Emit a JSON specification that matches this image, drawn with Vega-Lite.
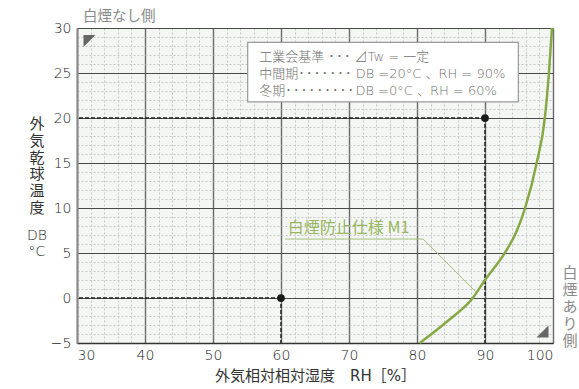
{
  "$schema": "https://vega.github.io/schema/vega-lite/v6.json",
  "width": 476,
  "height": 315,
  "autosize": {"type": "none"},
  "padding": {"left": 77, "top": 28, "right": 26, "bottom": 46},
  "background": "white",
  "config": {
    "view": {"fill": "#f4f6f4", "stroke": null},
    "font": "Noto Sans CJK JP",
    "axis": {"labelFont": "DejaVu Sans, Noto Sans CJK JP", "titleFont": "DejaVu Sans, Noto Sans CJK JP"}
  },
  "datasets": {
    "curve": [
      {"RH": 80.4, "DB": -5},
      {"RH": 84.6, "DB": -2.5},
      {"RH": 88.2, "DB": 0},
      {"RH": 90.0, "DB": 2},
      {"RH": 92.9, "DB": 5},
      {"RH": 94.7, "DB": 7.5},
      {"RH": 95.9, "DB": 10},
      {"RH": 97.6, "DB": 15},
      {"RH": 98.8, "DB": 20},
      {"RH": 99.4, "DB": 25},
      {"RH": 99.85, "DB": 30}
    ],
    "points": [
      {"season": "中間期", "RH": 90, "DB": 20},
      {"season": "冬期", "RH": 60, "DB": 0}
    ],
    "one": [{}]
  },
  "resolve": {"axis": {"x": "independent", "y": "independent"}},
  "layer": [
    {
      "data": {"name": "points"},
      "mark": {"type": "rule", "color": "#222222", "strokeWidth": 1.5, "strokeDash": [4, 2]},
      "encoding": {
        "x": {"field": "RH", "type": "quantitative", "scale": {"domain": [30, 100], "nice": false, "zero": false},
          "axis": {"orient": "bottom", "values": [32,34,36,38,42,44,46,48,52,54,56,58,62,64,66,68,72,74,76,78,82,84,86,88,92,94,96,98],
            "grid": true, "gridColor": "#c6c6c6", "gridDash": [2, 2], "gridWidth": 1, "labels": false, "ticks": false, "domain": false, "title": null}},
        "x2": {"datum": 30},
        "y": {"field": "DB", "type": "quantitative", "scale": {"domain": [-5, 30], "nice": false, "zero": false},
          "axis": {"orient": "left", "values": [-4,-3,-2,-1,1,2,3,4,6,7,8,9,11,12,13,14,16,17,18,19,21,22,23,24,26,27,28,29],
            "grid": true, "gridColor": "#c6c6c6", "gridDash": [2, 2], "gridWidth": 1, "labels": false, "ticks": false, "domain": false, "title": null}}
      }
    },
    {
      "data": {"name": "points"},
      "mark": {"type": "rule", "color": "#222222", "strokeWidth": 1.5, "strokeDash": [4, 2]},
      "encoding": {
        "x": {"field": "RH", "type": "quantitative", "scale": {"domain": [30, 100], "nice": false, "zero": false},
          "axis": {"orient": "bottom", "values": [30,40,50,60,70,80,90,100], "grid": true, "gridColor": "#6a6a6a", "gridWidth": 1.4,
            "ticks": false, "domain": true, "domainColor": "#333333", "domainWidth": 1.5,
            "labelPadding": 5, "labelFontSize": 14, "labelColor": "#222222", "labelFontWeight": 200,
            "title": "外気相対相対湿度　RH［%］", "titleFontSize": 15, "titleFontWeight": "normal", "titleColor": "#333333", "titlePadding": 6}},
        "y": {"field": "DB", "type": "quantitative", "scale": {"domain": [-5, 30], "nice": false, "zero": false},
          "axis": {"orient": "left", "values": [-5,0,5,10,15,20,25,30], "grid": true, "gridColor": "#4a4a4a", "gridWidth": 1.1,
            "ticks": false, "domain": true, "domainColor": "#8a8a8a", "domainWidth": 2,
            "labelPadding": 6, "labelFontSize": 14, "labelColor": "#222222", "labelFontWeight": 200, "title": null}},
        "y2": {"datum": -5}
      }
    },
    {
      "data": {"name": "curve"},
      "mark": {"type": "line", "color": "#86a845", "strokeWidth": 2.5, "interpolate": "monotone"},
      "encoding": {
        "x": {"field": "RH", "type": "quantitative", "scale": {"domain": [30, 100], "nice": false, "zero": false}, "axis": null},
        "y": {"field": "DB", "type": "quantitative", "scale": {"domain": [-5, 30], "nice": false, "zero": false}, "axis": null},
        "order": {"field": "DB", "type": "quantitative"}
      }
    },
    {
      "data": {"name": "points"},
      "mark": {"type": "circle", "color": "#1a1a1a", "size": 60, "opacity": 1},
      "encoding": {
        "x": {"field": "RH", "type": "quantitative", "scale": {"domain": [30, 100], "nice": false, "zero": false}, "axis": null},
        "y": {"field": "DB", "type": "quantitative", "scale": {"domain": [-5, 30], "nice": false, "zero": false}, "axis": null}
      }
    },
    {
      "data": {"name": "one"},
      "mark": {"type": "rect", "fill": "white", "stroke": "#9a9a9a", "strokeWidth": 1.2},
      "encoding": {
        "x": {"datum": 55.1, "type": "quantitative", "scale": {"domain": [30, 100], "nice": false, "zero": false}, "axis": null},
        "x2": {"datum": 94.9},
        "y": {"datum": 28.4, "type": "quantitative", "scale": {"domain": [-5, 30], "nice": false, "zero": false}, "axis": null},
        "y2": {"datum": 21.8}
      }
    },
    {
      "data": {"name": "one"},
      "mark": {"type": "text", "align": "left", "baseline": "top", "fontSize": 13, "fontWeight": 200, "font": "DejaVu Sans, Noto Sans CJK JP", "color": "#6f6f6f", "lineBreak": "\n", "lineHeight": 17},
      "encoding": {
        "x": {"datum": 56.8, "type": "quantitative", "scale": {"domain": [30, 100], "nice": false, "zero": false}, "axis": null},
        "y": {"datum": 27.48, "type": "quantitative", "scale": {"domain": [-5, 30], "nice": false, "zero": false}, "axis": null},
        "text": {"value": "工業会基準 ･\u200a･\u200a･ ⊿Tw = 一定\n中間期･\u200a･\u200a･\u200a･\u200a･\u200a･\u200a･ DB =20°C 、RH = 90%\n冬期･\u200a･\u200a･\u200a･\u200a･\u200a･\u200a･\u200a･\u200a･\u200aDB =0°C 、RH = 60%"}
      }
    },
    {
      "data": {"name": "one"},
      "mark": {"type": "rule", "color": "#a5bf78", "strokeWidth": 1},
      "encoding": {
        "x": {"datum": 60.6, "type": "quantitative", "scale": {"domain": [30, 100], "nice": false, "zero": false}, "axis": null},
        "x2": {"datum": 80.9},
        "y": {"datum": 6.55, "type": "quantitative", "scale": {"domain": [-5, 30], "nice": false, "zero": false}, "axis": null},
        "y2": {"datum": 6.55}
      }
    },
    {
      "data": {"name": "one"},
      "mark": {"type": "rule", "color": "#a5bf78", "strokeWidth": 1},
      "encoding": {
        "x": {"datum": 80.9, "type": "quantitative", "scale": {"domain": [30, 100], "nice": false, "zero": false}, "axis": null},
        "x2": {"datum": 88.5},
        "y": {"datum": 6.55, "type": "quantitative", "scale": {"domain": [-5, 30], "nice": false, "zero": false}, "axis": null},
        "y2": {"datum": 0.8}
      }
    },
    {
      "data": {"name": "one"},
      "mark": {"type": "text", "align": "left", "baseline": "middle", "fontSize": 16, "font": "Noto Sans CJK JP", "color": "#97b65f"},
      "encoding": {
        "x": {"datum": 61.0, "type": "quantitative", "scale": {"domain": [30, 100], "nice": false, "zero": false}, "axis": null},
        "y": {"datum": 7.78, "type": "quantitative", "scale": {"domain": [-5, 30], "nice": false, "zero": false}, "axis": null},
        "text": {"value": "白煙防止仕様 M1"}
      }
    },
    {
      "data": {"name": "one"},
      "mark": {"type": "point", "shape": "M-1,-1L1,-1L-1,1Z", "filled": true, "color": "#666666", "size": 144, "opacity": 1, "strokeWidth": 0},
      "encoding": {
        "x": {"datum": 31.84, "type": "quantitative", "scale": {"domain": [30, 100], "nice": false, "zero": false}, "axis": null},
        "y": {"datum": 28.56, "type": "quantitative", "scale": {"domain": [-5, 30], "nice": false, "zero": false}, "axis": null}
      }
    },
    {
      "data": {"name": "one"},
      "mark": {"type": "point", "shape": "M1,-1L1,1L-1,1Z", "filled": true, "color": "#666666", "size": 144, "opacity": 1, "strokeWidth": 0},
      "encoding": {
        "x": {"datum": 98.46, "type": "quantitative", "scale": {"domain": [30, 100], "nice": false, "zero": false}, "axis": null},
        "y": {"datum": -3.72, "type": "quantitative", "scale": {"domain": [-5, 30], "nice": false, "zero": false}, "axis": null}
      }
    },
    {
      "data": {"name": "one"},
      "mark": {"type": "text", "align": "left", "baseline": "middle", "fontSize": 14.5, "color": "#8a8a8a"},
      "encoding": {
        "x": {"datum": 30.9, "type": "quantitative", "scale": {"domain": [30, 100], "nice": false, "zero": false}, "axis": null},
        "y": {"datum": 31.2, "type": "quantitative", "scale": {"domain": [-5, 30], "nice": false, "zero": false}, "axis": null},
        "text": {"value": "白煙なし側"}
      }
    },
    {
      "data": {"name": "one"},
      "mark": {"type": "text", "align": "center", "baseline": "top", "fontSize": 15, "color": "#8a8a8a", "lineBreak": "\n", "lineHeight": 17},
      "encoding": {
        "x": {"datum": 102.5, "type": "quantitative", "scale": {"domain": [30, 100], "nice": false, "zero": false}, "axis": null},
        "y": {"datum": 3.57, "type": "quantitative", "scale": {"domain": [-5, 30], "nice": false, "zero": false}, "axis": null},
        "text": {"value": "白\n煙\nあ\nり\n側"}
      }
    },
    {
      "data": {"name": "one"},
      "mark": {"type": "text", "align": "center", "baseline": "top", "fontSize": 15, "color": "#333333", "lineBreak": "\n", "lineHeight": 16.8},
      "encoding": {
        "x": {"datum": 24.1, "type": "quantitative", "scale": {"domain": [30, 100], "nice": false, "zero": false}, "axis": null},
        "y": {"datum": 20.12, "type": "quantitative", "scale": {"domain": [-5, 30], "nice": false, "zero": false}, "axis": null},
        "text": {"value": "外\n気\n乾\n球\n温\n度"}
      }
    },
    {
      "data": {"name": "one"},
      "mark": {"type": "text", "align": "center", "baseline": "top", "fontSize": 14, "fontWeight": 200, "font": "DejaVu Sans, Noto Sans CJK JP", "color": "#222222", "lineBreak": "\n", "lineHeight": 16.5},
      "encoding": {
        "x": {"datum": 24.1, "type": "quantitative", "scale": {"domain": [30, 100], "nice": false, "zero": false}, "axis": null},
        "y": {"datum": 7.67, "type": "quantitative", "scale": {"domain": [-5, 30], "nice": false, "zero": false}, "axis": null},
        "text": {"value": "DB\n°C"}
      }
    }
  ]
}
